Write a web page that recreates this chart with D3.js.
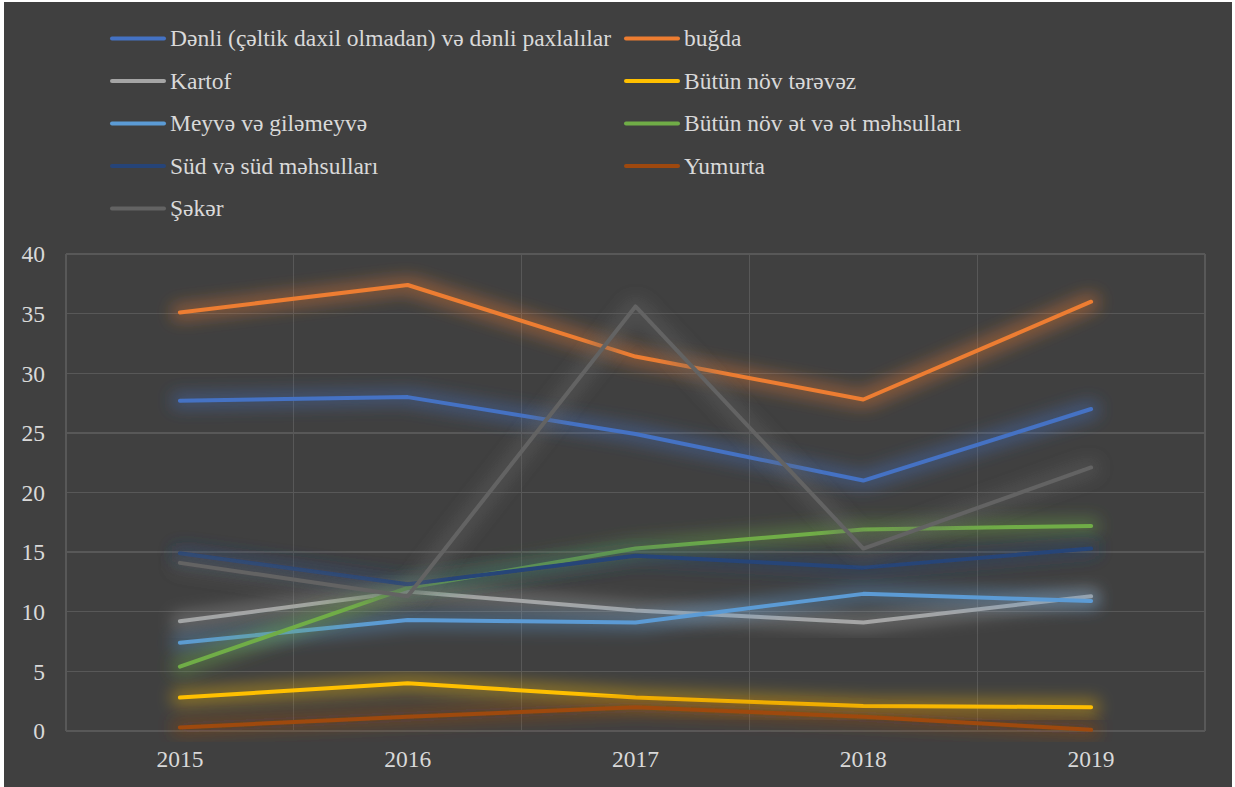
<!DOCTYPE html>
<meta charset="utf-8">
<style>
body { margin: 0; background: #fff; }
.tick text { font: 23.5px "Liberation Serif", serif; fill: #d9d9d9; }
.grid line { stroke: #585858; stroke-width: 1.3; shape-rendering: crispEdges; }
.legend text { font: 23.5px "Liberation Serif", serif; fill: #d9d9d9; }
</style>
<body>
<div id="chart"></div>
<script src="https://d3js.org/d3.v7.min.js"></script>
<script>

// data
var years = ["2015", "2016", "2017", "2018", "2019"];
var seriesNames = [
  "Dənli (çəltik daxil olmadan) və dənli paxlalılar",
  "buğda",
  "Kartof",
  "Bütün növ tərəvəz",
  "Meyvə və giləmeyvə",
  "Bütün növ ət və ət məhsulları",
  "Süd və süd məhsulları",
  "Yumurta",
  "Şəkər"
];
var seriesColors = ["#4472c4", "#ed7d31", "#a5a5a5", "#ffc000", "#5b9bd5", "#70ad47", "#264478", "#9e480e", "#636363"];
var denli   = [27.7, 28.0, 24.9, 21.0, 27.0];
var bugda   = [35.1, 37.4, 31.4, 27.8, 36.0];
var kartof  = [9.2, 11.7, 10.1, 9.1, 11.3];
var terevez = [2.8, 4.0, 2.8, 2.1, 2.0];
var meyve   = [7.4, 9.3, 9.1, 11.5, 10.9];
var et      = [5.4, 12.0, 15.3, 16.9, 17.2];
var sud     = [14.9, 12.3, 14.7, 13.7, 15.3];
var yumurta = [0.3, 1.2, 2.0, 1.2, 0.1];
var seker   = [14.1, 11.3, 35.6, 15.3, 22.1];
var yTicks  = [0, 5, 10, 15, 20, 25, 30, 35, 40];

var allValues = [denli, bugda, kartof, terevez, meyve, et, sud, yumurta, seker];
var series = seriesNames.map(function(n, i) {
  return { name: n, color: seriesColors[i], values: allValues[i] };
});

var W = 1235, H = 787;
var margin = {top: 254, right: 30, bottom: 56, left: 66};
var width = W - margin.left - margin.right,
    height = H - margin.top - margin.bottom;

var svg = d3.select("#chart").append("svg")
    .attr("width", W)
    .attr("height", H);

// panel background
svg.append("rect").attr("x", 4).attr("y", 2).attr("width", W - 7).attr("height", H - 2)
    .attr("fill", "#404040");

// glow filter
var defs = svg.append("defs");
var f = defs.append("filter").attr("id", "glow")
    .attr("x", "-20%").attr("y", "-50%").attr("width", "140%").attr("height", "200%");
f.append("feMorphology").attr("in", "SourceGraphic").attr("operator", "dilate").attr("radius", 6).attr("result", "thick");
f.append("feGaussianBlur").attr("in", "thick").attr("stdDeviation", 8).attr("result", "blur");
f.append("feComponentTransfer").attr("in", "blur").attr("result", "soft")
  .append("feFuncA").attr("type", "linear").attr("slope", 0.4);
var fm = f.append("feMerge");
fm.append("feMergeNode").attr("in", "soft");
fm.append("feMergeNode").attr("in", "SourceGraphic");

var g = svg.append("g").attr("transform", "translate(" + margin.left + "," + margin.top + ")");

var x = d3.scaleBand().domain(years).range([0, width]).paddingInner(0).paddingOuter(0);
var y = d3.scaleLinear().domain([0, 40]).range([height, 0]);

// horizontal gridlines
g.append("g").attr("class", "grid")
  .selectAll("line").data(yTicks).enter().append("line")
    .attr("x1", 0).attr("x2", width)
    .attr("y1", function(d) { return y(d); })
    .attr("y2", function(d) { return y(d); });

// vertical gridlines at category boundaries
var bounds = years.map(function(d) { return x(d); }).concat([width]);
g.append("g").attr("class", "grid")
  .selectAll("line").data(bounds).enter().append("line")
    .attr("x1", function(d) { return d; }).attr("x2", function(d) { return d; })
    .attr("y1", 0).attr("y2", height);

// y axis labels
var yAxis = g.append("g")
    .attr("transform", "translate(-21,0)")
    .call(d3.axisLeft(y).tickValues(yTicks).tickSize(0).tickPadding(0));
yAxis.select(".domain").remove();
yAxis.selectAll("text").attr("dy", "0.33em");

// x axis labels
var xAxis = g.append("g")
    .attr("transform", "translate(0," + (height + 17) + ")")
    .call(d3.axisBottom(x).tickSize(0).tickPadding(0));
xAxis.select(".domain").remove();
xAxis.selectAll("text").attr("dy", "0.8em");

// lines
var line = d3.line()
    .x(function(d, i) { return x(years[i]) + x.bandwidth() / 2; })
    .y(function(d) { return y(d); });

g.append("g").selectAll("path").data(series).enter().append("path")
    .attr("d", function(d) { return line(d.values); })
    .attr("fill", "none")
    .attr("stroke", function(d) { return d.color; })
    .attr("stroke-width", 4)
    .attr("stroke-linecap", "round")
    .attr("stroke-linejoin", "round")
    .attr("filter", "url(#glow)");

// legend
var legend = svg.append("g").attr("class", "legend");
var item = legend.selectAll("g").data(series).enter().append("g")
    .attr("transform", function(d, i) {
      var col = i % 2, row = Math.floor(i / 2);
      return "translate(" + (col === 0 ? 112 : 626) + "," + (38.5 + row * 42.5) + ")";
    });
item.append("line")
    .attr("x1", 0).attr("x2", 52).attr("y1", 0).attr("y2", 0)
    .attr("stroke", function(d) { return d.color; })
    .attr("stroke-width", 4)
    .attr("stroke-linecap", "round");
item.append("text")
    .attr("x", 58).attr("y", 0).attr("dy", "0.32em")
    .text(function(d) { return d.name; });

</script>
</body>
